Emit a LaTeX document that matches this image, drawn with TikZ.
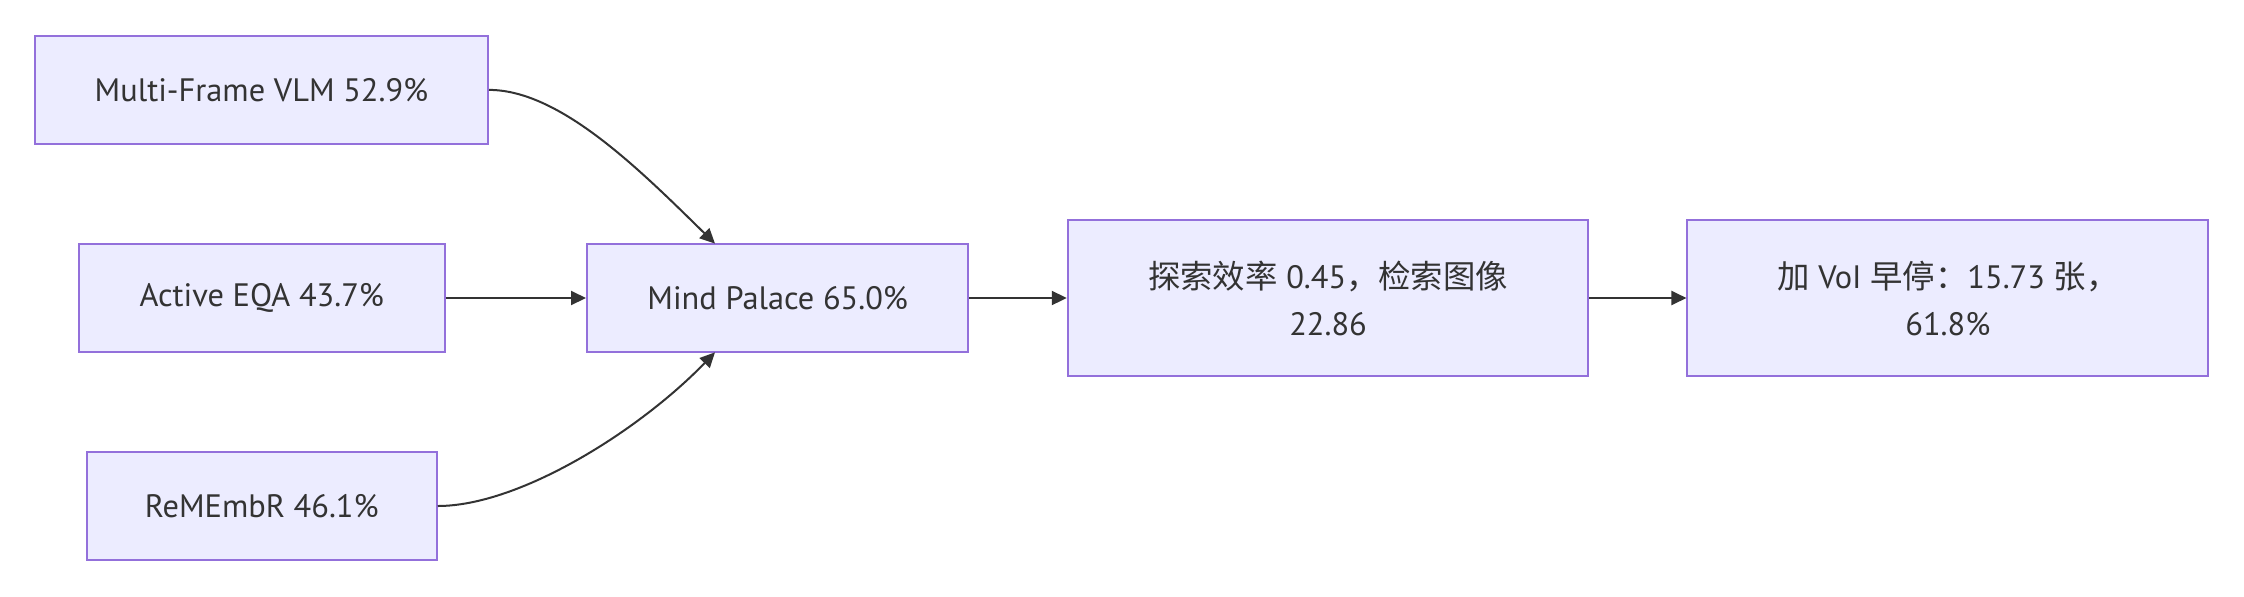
\documentclass[tikz,border=0pt]{standalone}
\usepackage{fontspec}
\setmainfont{PT Sans}
\newfontfamily\cjk{Noto Sans CJK SC}
\usetikzlibrary{arrows.meta}
\definecolor{boxfill}{HTML}{ECECFF}
\definecolor{boxline}{HTML}{9370DB}
\definecolor{edge}{HTML}{333333}
\tikzset{
  px/.style={x=0.5pt,y=-0.5pt},
  box/.style={draw=boxline,fill=boxfill,line width=1pt,inner sep=0pt,
    minimum height=54.2pt,align=center,font=\fontsize{16.2}{23.5}\selectfont,text=edge},
  tallbox/.style={box,minimum height=78.2pt},
  link/.style={draw=edge,line width=1pt,-{Triangle[length=7.5pt,width=7pt]}}
}
\begin{document}
\begin{tikzpicture}[px]
\useasboundingbox (0,0) rectangle (2244,596);
\node[box,minimum width=226.5pt] (mf) at (261.5,89.9) {Multi-Frame VLM 52.9\%};
\node[box,minimum width=183.2pt] (aq) at (261.75,298) {Active EQA 43.7\%};
\node[box,minimum width=175pt] (rm) at (261.75,506) {ReMEmbR 46.1\%};
\node[box,minimum width=190.7pt] (mp) at (777.7,298) {Mind Palace 65.0\%};
\node[tallbox,minimum width=260.3pt] (ex) at (1328.1,298) {{\cjk 探索效率} 0.45{\cjk ，检索图像}\\22.86};
\node[tallbox,minimum width=260.4pt] (vo) at (1947.85,298) {{\cjk 加} VoI {\cjk 早停：}15.73 {\cjk 张，}\\61.8\%};
\coordinate (mptop) at (715,243.6);
\coordinate (mpbot) at (715,352.3);
\draw[link] (mf.east) .. controls (560,89.9) and (640,170) .. (mptop);
\draw[link] (rm.east) .. controls (520,506) and (640,430) .. (mpbot);
\draw[link] (aq.east) -- (mp.west);
\draw[link] (mp.east) -- (ex.west);
\draw[link] (ex.east) -- (vo.west);
\end{tikzpicture}
\end{document}
